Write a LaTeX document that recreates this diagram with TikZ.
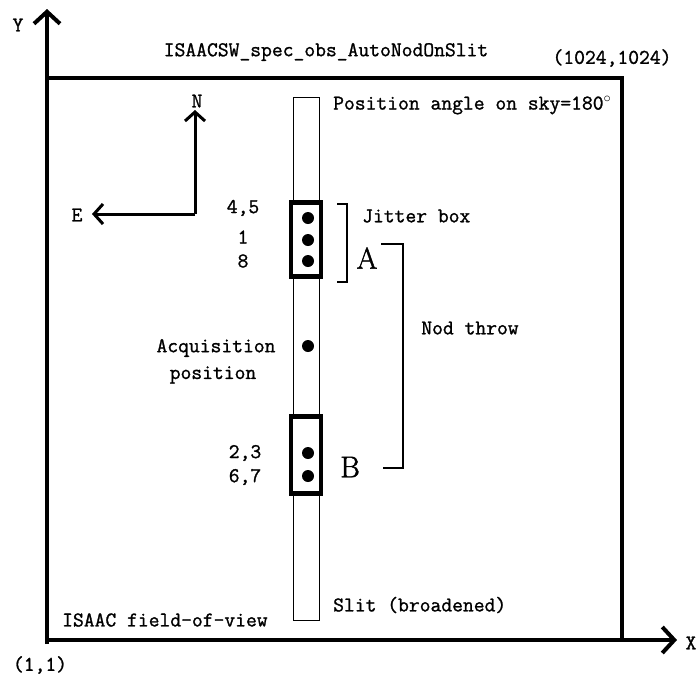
\documentclass[tikz,border=0pt]{standalone}
\usepackage{fontspec}
\newfontfamily\heavytt{Latin Modern Mono}[FakeBold=1.2]
\newfontfamily\heavyrm{Latin Modern Roman}[FakeBold=1.5]
\usetikzlibrary{arrows.meta}
\tikzset{
  lbl/.style={font=\heavytt\fontsize{21}{23}\selectfont, inner sep=0pt},
  bigl/.style={font=\heavyrm\fontsize{30}{32}\selectfont, inner sep=0pt},
  axis/.style={line width=4pt, -{Straight Barb[length=12pt,width=26pt,line width=4pt]}},
  comp/.style={line width=3pt, -{Straight Barb[length=9pt,width=20pt,line width=3pt]}},
  jbox/.style={draw, line width=4.5pt, inner sep=0pt, minimum width=30pt},
  spot/.style={circle, fill, minimum size=12pt, inner sep=0pt},
  brk/.style={line width=1.6pt},
}
\begin{document}
\begin{tikzpicture}[x=1pt,y=-1pt]
\useasboundingbox (0,0) rectangle (700,678);
% field of view
\draw[line width=4pt] (47,78) rectangle (622,640);
\coordinate (O) at (47,640);
\coordinate (Ytip) at (47,9);
\coordinate (Xtip) at (677,640);
\draw[axis] (47,644) -- (Ytip);
\draw[axis] (O) -- (Xtip);
\node[lbl] (ylab) at (18,25) {Y};
\node[lbl] (xlab) at (691,643) {X};
\node[lbl] (c11) at (40,665) {(1,1)};
\node[lbl] (c1024) at (612,58) {(1024,1024)};
\node[lbl] (title) at (326,52) {ISAACSW\_spec\_obs\_AutoNodOnSlit};
% slit
\node[draw, line width=1pt, minimum width=26pt, minimum height=523pt, inner sep=0pt] (slit) at (306,358.5) {};
\node[lbl, anchor=west] (pa) at (333,105) {Position angle on sky=180$^{\circ}$};
\node[lbl, anchor=west] (slitlab) at (333,605) {Slit (broadened)};
\node[lbl, anchor=west] (fov) at (62,620) {ISAAC field-of-view};
% compass
\coordinate (C) at (195,214);
\coordinate (Ntip) at (195,110);
\coordinate (Etip) at (92,214);
\draw[comp] (C) -- (Ntip);
\draw[comp] (C) -- (Etip);
\node[lbl] (N) at (197,101) {N};
\node[lbl] (E) at (77,215) {E};
% jitter box A
\node[jbox, minimum height=74pt, fill=white] (boxA) at (306,239.5) {};
\node[spot] (a1) at (308,218) {};
\node[spot] (a2) at (308,240) {};
\node[spot] (a3) at (308,261) {};
\node[lbl] (l45) at (243,208) {4,5};
\node[lbl] (l1) at (243,237) {1};
\node[lbl] (l8) at (243,261) {8};
% acquisition
\node[spot] (acq) at (308,346) {};
\node[lbl] (acqlab) at (216,348) {Acquisition};
\node[lbl] (poslab) at (213,375) {position};
% box B
\node[jbox, minimum height=77pt, fill=white] (boxB) at (306,455) {};
\node[spot] (b1) at (308,453) {};
\node[spot] (b2) at (308,476) {};
\node[lbl] (l23) at (245,453) {2,3};
\node[lbl] (l67) at (245,477) {6,7};
% labels A, B
\node[bigl] (A) at (367,258) {A};
\node[bigl] (B) at (350,467) {B};
% jitter bracket
\draw[brk] (337,204) -- (347,204) -- (347,282) -- (337,282);
\node[lbl, anchor=west] (jit) at (362,216) {Jitter box};
% nod throw bracket
\draw[brk] (381,244) -- (403,244) -- (403,468) -- (383,468);
\node[lbl] (nod) at (470,328) {Nod throw};
\end{tikzpicture}
\end{document}
